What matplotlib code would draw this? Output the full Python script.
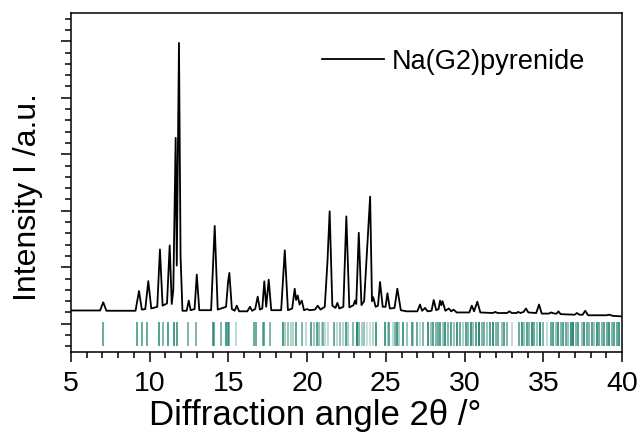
import matplotlib
matplotlib.use("Agg")
import matplotlib.pyplot as plt
from matplotlib.ticker import MultipleLocator, NullFormatter
from matplotlib.colors import to_rgba

plt.rcParams['font.family'] = ['Liberation Sans', 'DejaVu Sans']

# Measured powder pattern (2theta in degrees, intensity in arbitrary units)
two_theta = [5.0, 6.85, 7.05, 7.25, 9.1, 9.32, 9.5, 9.72, 9.91, 10.1, 10.48, 10.65, 10.82,
             11.1, 11.27, 11.4, 11.5, 11.65, 11.72, 11.86, 11.96, 12.08, 12.35, 12.48, 12.6,
             12.85, 12.99, 13.15, 13.9, 14.13, 14.32, 14.85, 14.98, 15.06, 15.22, 15.4, 15.53,
             15.68, 16.2, 16.37, 16.5, 16.7, 16.86, 17.0, 17.15, 17.28, 17.4, 17.56, 17.72,
             18.35, 18.58, 18.78, 19.05, 19.21, 19.3, 19.4, 19.52, 19.66, 19.8, 20.0, 20.15,
             20.5, 20.67, 20.85, 21.12, 21.29, 21.43, 21.6, 21.8, 21.92, 22.05, 22.3, 22.49,
             22.68, 22.95, 23.04, 23.12, 23.28, 23.45, 23.62, 23.83, 24.0, 24.12, 24.2, 24.35,
             24.5, 24.63, 24.8, 24.98, 25.1, 25.25, 25.55, 25.73, 25.95, 26.3, 27.0, 27.17,
             27.3, 27.49, 27.65, 27.9, 28.04, 28.2, 28.35, 28.44, 28.52, 28.6, 28.78, 29.0,
             29.15, 29.3, 29.5, 30.3, 30.46, 30.6, 30.81, 31.0, 31.8, 31.95, 32.1, 32.7, 32.85,
             33.0, 33.3, 33.4, 33.55, 33.75, 33.9, 34.05, 34.55, 34.73, 34.9, 35.35, 35.5,
             35.7, 35.85, 35.96, 36.1, 37.0, 37.13, 37.3, 37.5, 37.66, 37.85, 39.0, 39.2,
             39.4, 40.0]
intensity = [0.235, 0.235, 0.38, 0.23, 0.23, 0.58, 0.25, 0.26, 0.755, 0.27, 0.30, 1.315, 0.32,
             0.36, 1.386, 0.35, 0.60, 3.29, 1.03, 4.97, 1.20, 0.23, 0.23, 0.41, 0.24,
             0.26, 0.87, 0.24, 0.24, 1.73, 0.25, 0.30, 0.75, 0.90, 0.26, 0.23, 0.32,
             0.22, 0.22, 0.30, 0.23, 0.26, 0.48, 0.25, 0.27, 0.75, 0.30, 0.78, 0.24,
             0.24, 1.30, 0.24, 0.27, 0.62, 0.42, 0.50, 0.34, 0.41, 0.24, 0.26, 0.24,
             0.25, 0.32, 0.25, 0.30, 1.09, 1.99, 0.32, 0.28, 0.37, 0.27, 0.30, 1.90,
             0.29, 0.33, 0.41, 0.35, 1.61, 0.33, 0.40, 1.43, 2.25, 0.40, 0.47, 0.30,
             0.32, 0.74, 0.30, 0.30, 0.54, 0.27, 0.28, 0.62, 0.24, 0.22, 0.22, 0.34,
             0.23, 0.28, 0.22, 0.23, 0.42, 0.24, 0.26, 0.41, 0.33, 0.40, 0.23, 0.27,
             0.22, 0.25, 0.20, 0.20, 0.32, 0.22, 0.39, 0.20, 0.19, 0.21, 0.19, 0.19, 0.22,
             0.19, 0.19, 0.21, 0.19, 0.21, 0.27, 0.20, 0.19, 0.34, 0.18, 0.18, 0.20,
             0.18, 0.18, 0.22, 0.17, 0.16, 0.19, 0.16, 0.16, 0.23, 0.15, 0.15, 0.16,
             0.14, 0.13]

# Calculated reflection positions and their relative shade
refl_pos = [7.01, 9.21, 9.49, 9.85, 10.61, 10.83, 11.18, 11.56, 11.71, 12.41, 12.94, 14.0, 14.11,
            14.51, 14.85, 14.96, 15.06, 15.48, 16.63, 16.75, 17.18, 17.26, 17.64, 18.49, 18.62,
            18.81, 18.96, 19.12, 19.29, 19.65, 19.93, 20.23, 20.44, 20.61, 20.78, 20.93, 21.03,
            21.16, 21.35, 21.73, 21.88, 22.09, 22.3, 22.47, 22.62, 22.93, 23.19, 23.32, 23.47,
            23.61, 23.83, 24.0, 24.17, 24.38, 24.95, 25.12, 25.22, 25.48, 25.58, 25.73, 25.86,
            26.11, 26.33, 26.64, 26.75, 27.0, 27.17, 27.38, 27.66, 27.85, 28.02, 28.19, 28.34,
            28.44, 28.62, 28.76, 28.97, 29.12, 29.33, 29.5, 29.71, 29.88, 30.1, 30.24, 30.39,
            30.56, 30.73, 30.94, 31.09, 31.24, 31.41, 31.62, 31.83, 32.0, 32.15, 32.36, 32.51,
            32.68, 33.0, 33.48, 33.63, 33.78, 33.95, 34.12, 34.27, 34.42, 34.59, 34.8, 35.01,
            35.26, 35.48, 35.64, 35.81, 35.96, 36.13, 36.28, 36.45, 36.59, 36.75, 36.91, 37.08,
            37.23, 37.44, 37.59, 37.76, 37.93, 38.08, 38.23, 38.4, 38.56, 38.72, 38.86, 39.03,
            39.2, 39.35, 39.5, 39.67, 39.84]
refl_shade = [0.7, 0.75, 0.7, 0.7, 0.8, 0.6, 0.8, 0.85, 0.8, 0.6, 0.6, 0.8, 0.7,
              0.6, 0.85, 0.8, 0.6, 0.3, 0.7, 0.7, 0.6, 0.7, 0.6, 0.85, 0.4,
              0.5, 0.35, 0.35, 0.75, 0.6, 0.3, 0.8, 0.45, 0.8, 0.5, 0.35, 0.6,
              0.3, 0.3, 0.7, 0.3, 0.5, 0.35, 0.8, 0.4, 0.6, 1.0, 0.6, 0.4,
              0.5, 0.25, 0.25, 0.35, 0.85, 0.85, 0.4, 0.7, 0.3, 0.6, 0.9, 0.4,
              0.85, 0.5, 0.8, 0.4, 0.7, 0.3, 0.6, 0.9, 0.5, 0.8, 0.6, 0.7,
              0.8, 0.5, 0.9, 0.6, 0.8, 0.5, 0.9, 0.7, 0.4, 0.8, 0.6, 0.9,
              0.5, 0.8, 1.0, 0.6, 0.7, 0.5, 0.8, 0.95, 0.6, 0.7, 0.5, 0.8,
              0.6, 0.3, 0.7, 0.9, 0.5, 0.8, 0.6, 0.95, 0.7, 0.5, 1.0, 0.6,
              0.3, 0.7, 0.8, 0.5, 0.9, 0.6, 0.8, 0.7, 0.5, 0.9, 1.0, 0.6,
              0.8, 0.5, 0.9, 0.7, 0.6, 0.8, 0.5, 0.9, 0.7, 0.6, 0.8, 0.7,
              0.9, 0.6, 0.8, 0.7, 0.9]

legend_label = "Na(G2)pyrenide"
bar_color = '#19806a'

fig = plt.figure(figsize=(6.4, 4.35), dpi=100)
ax = fig.add_axes([0.1109, 0.1885, 0.861, 0.7793])

ax.plot(two_theta, intensity, color='black', lw=1.3, label=legend_label)
ax.vlines(refl_pos, -0.39, 0.03,
          colors=[to_rgba(bar_color, a) for a in refl_shade], lw=1.3)

ax.set_xlim(5, 40)
ax.set_ylim(-0.5, 5.5)
ax.xaxis.set_major_locator(MultipleLocator(5))
ax.xaxis.set_minor_locator(MultipleLocator(1))
ax.yaxis.set_major_locator(MultipleLocator(1))
ax.yaxis.set_minor_locator(MultipleLocator(0.2))
ax.yaxis.set_major_formatter(NullFormatter())

for s in ax.spines.values():
    s.set_linewidth(1.1)
ax.tick_params(which='major', direction='out', length=7, width=1.1, labelsize=20.5, pad=6)
ax.tick_params(which='minor', direction='out', length=4, width=1.1)

ax.set_xlabel("Diffraction angle 2θ /°", fontsize=25)
ax.set_ylabel("Intensity I /a.u.", fontsize=23)
ax.xaxis.set_label_coords(0.443, -0.135)
ax.yaxis.set_label_coords(-0.05, 0.459)

ax.legend(loc='center left', bbox_to_anchor=(0.455, 0.8575), frameon=False,
          fontsize=19.5, handlelength=2.3, handletextpad=0.3, borderpad=0, borderaxespad=0)

fig.savefig("out.png", dpi=100)
